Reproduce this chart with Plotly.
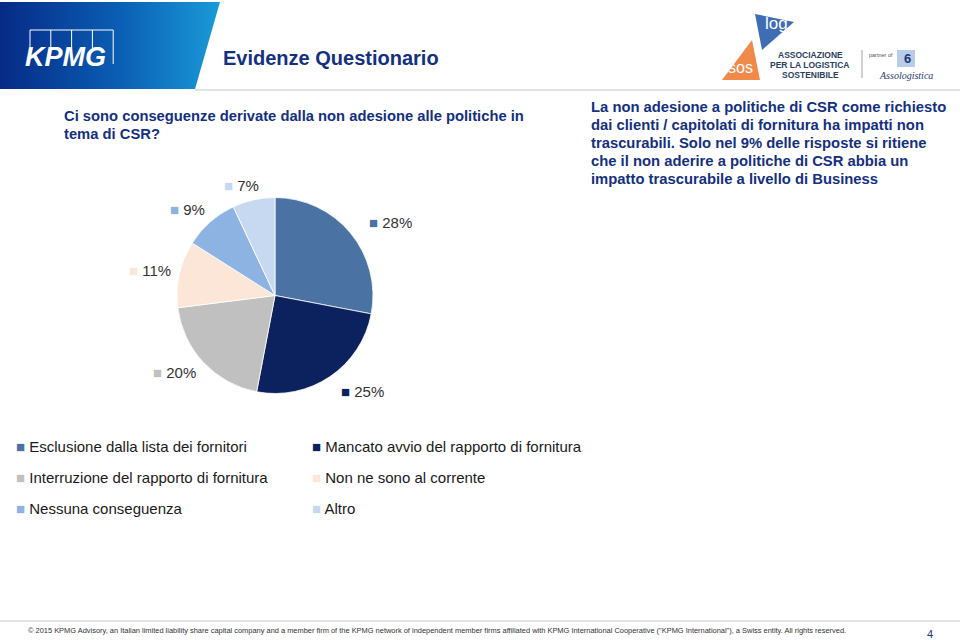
import plotly.graph_objects as go

# ---------------- data ----------------
categories = [
    "Esclusione dalla lista dei fornitori",
    "Mancato avvio del rapporto di fornitura",
    "Interruzione del rapporto di fornitura",
    "Non ne sono al corrente",
    "Nessuna conseguenza",
    "Altro",
]
values = [28, 25, 20, 11, 9, 7]
colors = ["#4a73a3", "#0c225e", "#c0c0c0", "#fbe6d7", "#8db3e2", "#c7d9f0"]

title_text = "Evidenze Questionario"
question_lines = [
    "Ci sono conseguenze derivate dalla non adesione alle politiche in",
    "tema di CSR?",
]
comment_lines = [
    "La non adesione a politiche di CSR come richiesto",
    "dai clienti / capitolati di fornitura ha impatti non",
    "trascurabili. Solo nel 9% delle risposte si ritiene",
    "che il non aderire a politiche di CSR abbia un",
    "impatto trascurabile a livello di Business",
]
footer_text = ("© 2015 KPMG Advisory, an Italian limited liability share capital company and a member firm "
               "of the KPMG network of independent member firms affiliated with KPMG International Cooperative "
               "(\"KPMG International\"), a Swiss entity. All rights reserved.")
page_number = "4"

# ---------------- layout helpers ----------------
W, H = 960, 640
FONT = "Arial, Liberation Sans, sans-serif"
NAVY = "#14307f"

def px(x):
    return x / W

def py(y):
    return 1 - y / H

fig = go.Figure()

# header banner with gradient (pixel-space cartesian overlay)
fig.add_trace(go.Scatter(
    x=[0, 220, 195, 0, 0], y=[2, 2, 89, 89, 2],
    fill="toself", mode="lines", line=dict(width=0),
    fillgradient=dict(type="horizontal",
                      colorscale=[[0, "#062a86"], [0.55, "#0a5fb4"], [1, "#1a9ad8"]]),
    hoverinfo="skip", showlegend=False,
))

# logo triangles (right side)
fig.add_trace(go.Scatter(
    x=[755, 794, 762, 755], y=[14, 22, 50, 14], fill="toself", mode="lines",
    line=dict(width=0), fillcolor="#3f6db3", hoverinfo="skip", showlegend=False))
fig.add_trace(go.Scatter(
    x=[752, 722, 760, 752], y=[40, 80, 80, 40], fill="toself", mode="lines",
    line=dict(width=0), fillcolor="#f08a4b", hoverinfo="skip", showlegend=False))

# pie
fig.add_trace(go.Pie(
    labels=categories, values=values, sort=False, direction="clockwise",
    rotation=0, textinfo="none", hoverinfo="label+percent",
    marker=dict(colors=colors, line=dict(color="#ffffff", width=0.8)),
    domain=dict(x=[px(177), px(373)], y=[py(394), py(197)]),
    showlegend=False,
))

shapes = []
annotations = []

# KPMG boxes (open frames above the wordmark)
bw = 20.8
path = f"M30,48 L30,30 L{30 + 4 * bw},30 L{30 + 4 * bw},64"
for i in range(1, 4):
    xx = 30 + i * bw
    path += f" M{xx},30 L{xx},48"
shapes.append(dict(type="path", xref="x", yref="y", path=path,
                   line=dict(color="white", width=1)))
annotations.append(dict(text="<b><i>KPMG</i></b>", x=px(23), y=py(57), xref="paper", yref="paper",
                        xanchor="left", yanchor="middle", showarrow=False,
                        font=dict(family=FONT, size=27, color="white")))

# separator lines
shapes.append(dict(type="line", xref="x", yref="y", x0=195, x1=960, y0=90, y1=90,
                   line=dict(color="#c8c8c8", width=1)))
shapes.append(dict(type="line", xref="x", yref="y", x0=0, x1=960, y0=621, y1=621,
                   line=dict(color="#c8c8c8", width=1)))
shapes.append(dict(type="line", xref="x", yref="y", x0=862, x1=862, y0=50, y1=78,
                   line=dict(color="#8a8a8a", width=0.8)))
# assologistica icon
shapes.append(dict(type="rect", xref="x", yref="y", x0=897, x1=915, y0=50, y1=67,
                   line=dict(width=0), fillcolor="#b7cdea"))

# title
annotations.append(dict(text="<b>" + title_text + "</b>", x=px(221), y=py(58), xref="paper", yref="paper",
                        xanchor="left", yanchor="middle", showarrow=False,
                        font=dict(family=FONT, size=20, color=NAVY)))

# logo texts
annotations.append(dict(text="log", x=px(776), y=py(24), xref="paper", yref="paper",
                        xanchor="center", yanchor="middle", showarrow=False,
                        font=dict(family=FONT, size=17, color="white")))
annotations.append(dict(text="sos", x=px(740), y=py(68), xref="paper", yref="paper",
                        xanchor="center", yanchor="middle", showarrow=False,
                        font=dict(family=FONT, size=16, color="white")))
for t, yy in [("ASSOCIAZIONE", 55), ("PER LA LOGISTICA", 65), ("SOSTENIBILE", 75)]:
    annotations.append(dict(text="<b>" + t + "</b>", x=px(810), y=py(yy), xref="paper", yref="paper",
                            xanchor="center", yanchor="middle", showarrow=False,
                            font=dict(family=FONT, size=8.5, color="#2b3f60")))
annotations.append(dict(text="partner of", x=px(867), y=py(55), xref="paper", yref="paper",
                        xanchor="left", yanchor="middle", showarrow=False,
                        font=dict(family=FONT, size=5.5, color="#555")))
annotations.append(dict(text="<i>Assologistica</i>", x=px(906), y=py(75), xref="paper", yref="paper",
                        xanchor="center", yanchor="middle", showarrow=False,
                        font=dict(family="Liberation Serif, serif", size=10, color="#1e3870")))
annotations.append(dict(text="<b>6</b>", x=px(907), y=py(59), xref="paper", yref="paper",
                        xanchor="center", yanchor="middle", showarrow=False,
                        font=dict(family=FONT, size=13, color="#1e3870")))

# question text
for i, line in enumerate(question_lines):
    annotations.append(dict(text="<b>" + line + "</b>", x=px(62), y=py(116 + i * 17.5),
                            xref="paper", yref="paper", xanchor="left", yanchor="middle",
                            showarrow=False, font=dict(family=FONT, size=14.75, color=NAVY)))

# comment text
for i, line in enumerate(comment_lines):
    annotations.append(dict(text="<b>" + line + "</b>", x=px(589), y=py(107 + i * 18),
                            xref="paper", yref="paper", xanchor="left", yanchor="middle",
                            showarrow=False, font=dict(family=FONT, size=14.8, color=NAVY)))

# percentage labels (outside-end positions)
label_pos = [(371, 223), (343, 391), (155, 372), (131, 270), (172, 209), (226, 185)]
for v, c, (lx, ly) in zip(values, colors, label_pos):
    annotations.append(dict(text=f"<span style='color:{c}'>■</span> {v}%", x=px(lx - 4), y=py(ly),
                            xref="paper", yref="paper", xanchor="left", yanchor="middle",
                            showarrow=False, font=dict(family=FONT, size=15, color="#333333")))

# legend (two columns, row-major)
leg_cols = [14, 310]
leg_rows = [446, 477, 508]
for i, (cat, c) in enumerate(zip(categories, colors)):
    lx = leg_cols[i % 2]
    ly = leg_rows[i // 2]
    annotations.append(dict(text=f"<span style='color:{c}'>■</span> {cat}", x=px(lx), y=py(ly),
                            xref="paper", yref="paper", xanchor="left", yanchor="middle",
                            showarrow=False, font=dict(family=FONT, size=15, color="#1a1a1a")))

# footer
annotations.append(dict(text=footer_text, x=px(26), y=py(630), xref="paper", yref="paper",
                        xanchor="left", yanchor="middle", showarrow=False,
                        font=dict(family=FONT, size=7.45, color="#333")))
annotations.append(dict(text=page_number, x=px(930), y=py(634), xref="paper", yref="paper",
                        xanchor="center", yanchor="middle", showarrow=False,
                        font=dict(family=FONT, size=11, color="#1e3870")))

fig.update_layout(
    width=W, height=H, margin=dict(l=0, r=0, t=0, b=0),
    paper_bgcolor="white", plot_bgcolor="white",
    xaxis=dict(range=[0, W], visible=False, fixedrange=True, domain=[0, 1]),
    yaxis=dict(range=[H, 0], visible=False, fixedrange=True, domain=[0, 1]),
    shapes=shapes, annotations=annotations, showlegend=False,
)

fig.write_html("out.html", config={"displayModeBar": False},
               post_script="document.body.style.margin='0';document.body.style.overflow='hidden';")
